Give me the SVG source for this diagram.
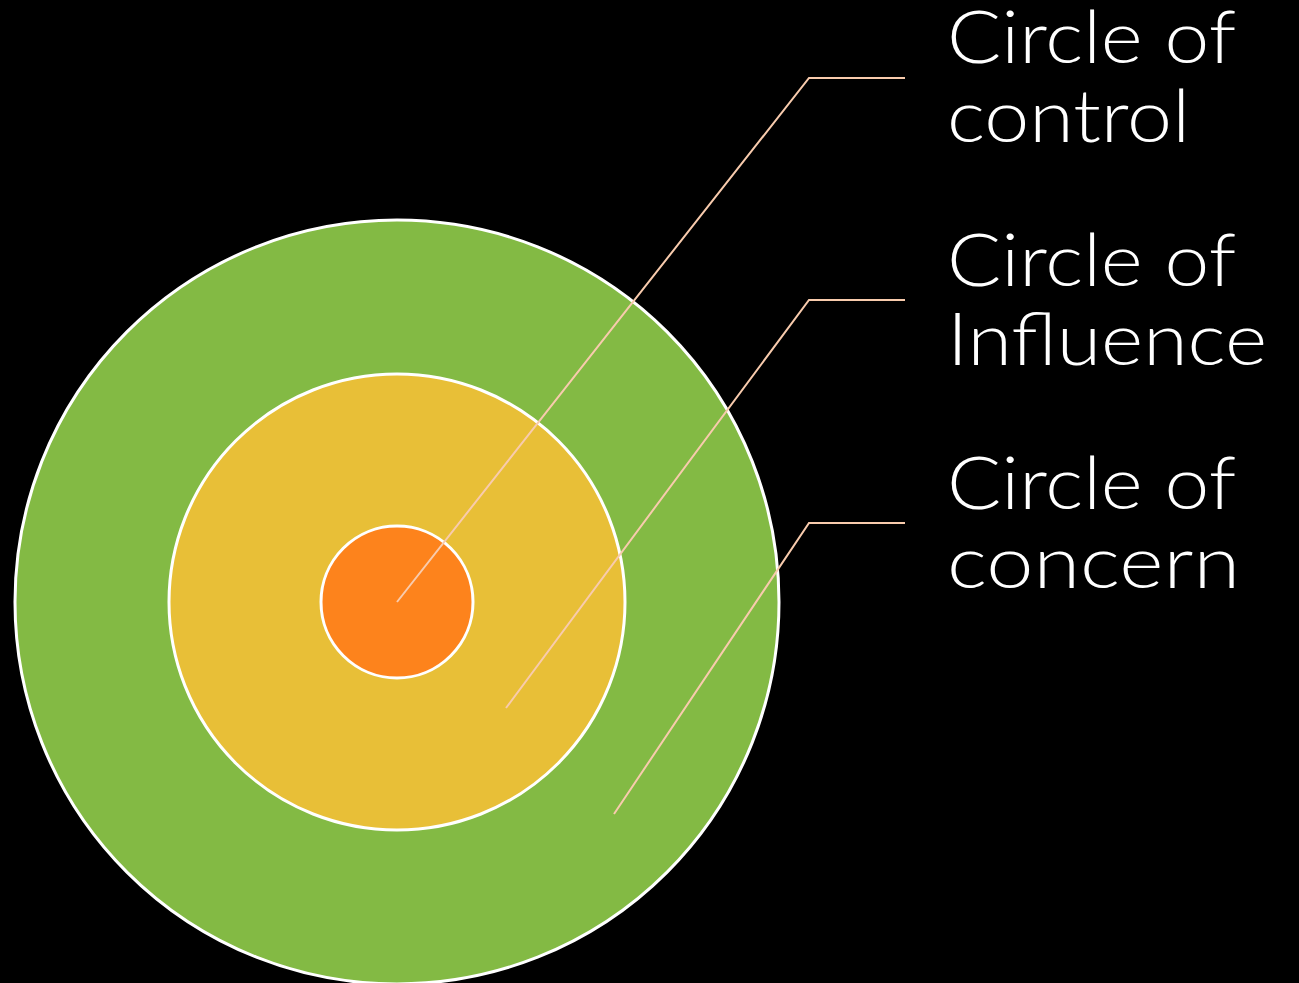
<svg xmlns="http://www.w3.org/2000/svg" width="1299" height="983" viewBox="0 0 1299 983">
  <style>
    .ring { stroke: #ffffff; stroke-width: 3; }
    .lead { fill: none; stroke: #f8cbad; stroke-width: 2; }
    .label { font-family: "Lato", "Open Sans", "DejaVu Sans", sans-serif; font-size: 72px; font-weight: 300; fill: #ffffff; }
  </style>
  <rect width="1299" height="983" fill="#000000"/>

  <g id="circle-concern">
    <circle class="ring" cx="397" cy="602" r="382" fill="#83ba44"/>
  </g>
  <g id="circle-influence">
    <circle class="ring" cx="397" cy="602" r="228" fill="#e8bf37"/>
  </g>
  <g id="circle-control">
    <circle class="ring" cx="397" cy="602" r="76" fill="#fd831c"/>
  </g>

  <g id="connectors">
    <polyline class="lead" points="397,602 809,78 905,78"/>
    <polyline class="lead" points="506,708 809,300 905,300"/>
    <polyline class="lead" points="614,814 809,523 905,523"/>
  </g>

  <g id="label-control">
    <text class="label" x="947" y="63" textLength="289" lengthAdjust="spacingAndGlyphs">Circle of</text>
    <text class="label" x="947" y="142" textLength="243" lengthAdjust="spacingAndGlyphs">control</text>
  </g>
  <g id="label-influence">
    <text class="label" x="947" y="286" textLength="289" lengthAdjust="spacingAndGlyphs">Circle of</text>
    <text class="label" x="947" y="365" textLength="320" lengthAdjust="spacingAndGlyphs">Influence</text>
  </g>
  <g id="label-concern">
    <text class="label" x="947" y="509" textLength="289" lengthAdjust="spacingAndGlyphs">Circle of</text>
    <text class="label" x="947" y="588" textLength="293" lengthAdjust="spacingAndGlyphs">concern</text>
  </g>
</svg>
